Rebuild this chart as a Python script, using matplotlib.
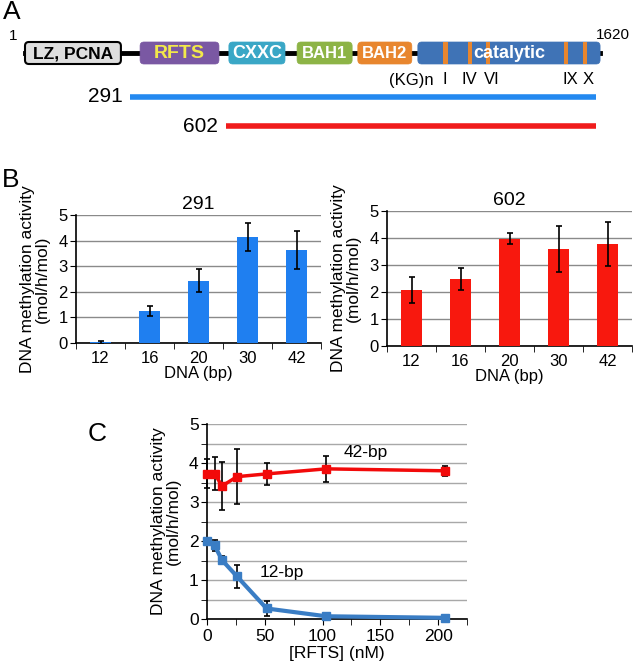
import matplotlib
matplotlib.use("Agg")
import matplotlib.pyplot as plt
from matplotlib.patches import FancyBboxPatch, Rectangle
import numpy as np

plt.rcParams['font.family'] = ['Liberation Sans', 'DejaVu Sans']

# ---- panel A: schematic (positions in residue units as drawn) ----
domain_names = ["LZ, PCNA", "RFTS", "CXXC", "BAH1", "BAH2", "catalytic"]
domain_start = [1, 325, 575, 767, 938, 1107]
domain_end = [271, 547, 733, 922, 1090, 1620]
domain_fill = ["#dedede", "#7a58a3", "#3aa7c6", "#8db446", "#e8862e", "#3f73b6"]
domain_text = ["black", "#f2e84a", "white", "white", "white", "white"]
domain_fs = [12.5, 14, 13, 12, 12, 13]
motif_pos = [1185, 1253, 1305, 1525, 1577]
motif_labels = ["(KG)n", "I", "IV", "VI", "IX", "X"]
motif_label_pos = [1152, 1183, 1253, 1316, 1535, 1586]
construct_names = ["291", "602"]
construct_start = [297, 567]
construct_end = [1609, 1609]
construct_colors = ["#2389f0", "#f01c1c"]

# ---- panel B: activity vs DNA length ----
dna_len = ["12", "16", "20", "30", "42"]
act_291 = [0.02, 1.25, 2.43, 4.13, 3.63]
err_291 = [0.05, 0.18, 0.45, 0.54, 0.75]
act_602 = [2.09, 2.48, 3.98, 3.60, 3.79]
err_602 = [0.48, 0.40, 0.22, 0.85, 0.82]

# ---- panel C: RFTS titration ----
rfts_nm = [0, 6.5, 13, 26, 51.5, 103, 206]
act_42 = [3.73, 3.73, 3.41, 3.65, 3.72, 3.85, 3.80]
err_42 = [0.38, 0.43, 0.62, 0.70, 0.28, 0.33, 0.13]
act_12 = [1.99, 1.89, 1.51, 1.09, 0.27, 0.07, 0.03]
err_12 = [0.03, 0.14, 0.11, 0.30, 0.19, 0.03, 0.02]

W, H = 633, 661
fig = plt.figure(figsize=(W / 100, H / 100), dpi=100)


def px_axes(left, top, right, bottom):
    return fig.add_axes([left / W, 1 - bottom / H, (right - left) / W, (bottom - top) / H])


# ----- A -----
ax_a = px_axes(0, 0, W, 140)
px_per_aa = 0.3552
ax_a.set_xlim(1 - 25 / px_per_aa, 1 + 608 / px_per_aa)
ax_a.set_ylim(140, 0)
ax_a.axis("off")
aspect = px_per_aa

ax_a.plot([domain_start[0], domain_end[-1]], [53, 53], color="black", lw=3.5, zorder=1)
for name, s, e, fc in zip(domain_names, domain_start, domain_end, domain_fill):
    box = FancyBboxPatch((s, 42), e - s, 22,
                         boxstyle="round,pad=0,rounding_size=11",
                         mutation_aspect=aspect,
                         fc=fc, ec="black" if name == "LZ, PCNA" else fc,
                         lw=1.5 if name == "LZ, PCNA" else 0.5, zorder=2)
    ax_a.add_patch(box)
for m in motif_pos:
    ax_a.add_patch(Rectangle((m - 6, 42), 12, 22, fc="#e8862e", ec="none", zorder=3))
for name, s, e, tc, fs in zip(domain_names, domain_start, domain_end, domain_text, domain_fs):
    ax_a.text((s + e) / 2, 54, name, ha="center", va="center", color=tc,
              fontsize=fs, fontweight="bold", zorder=4)
for lab, x in zip(motif_labels, motif_label_pos):
    ax_a.text(x, 80, lab, ha="right" if lab == "(KG)n" else "center", va="center", fontsize=12)
ax_a.text(-33, 36, "1", ha="center", va="center", fontsize=11)
ax_a.text(1609, 35, "1620", ha="left", va="center", fontsize=11)
for name, s, e, c, y in zip(construct_names, construct_start, construct_end, construct_colors, [97, 126]):
    ax_a.plot([s, e], [y, y], color=c, lw=4, solid_capstyle="butt")
    ax_a.text(s - 22, y, name, ha="right", va="center", fontsize=15)

fig.text(3 / W, 1 - 12 / H, "A", fontsize=19, ha="left", va="center")
fig.text(2 / W, 1 - 180 / H, "B", fontsize=19, ha="left", va="center")
fig.text(88 / W, 1 - 434 / H, "C", fontsize=19, ha="left", va="center")


# ----- B -----
def bar_panel(ax, vals, errs, color, title):
    x = np.arange(len(dna_len))
    ax.bar(x, vals, width=0.41, color=color, zorder=3)
    ax.errorbar(x, vals, yerr=errs, fmt="none", ecolor="black", elinewidth=1.2,
                capsize=2.5, capthick=1.2, zorder=4)
    ax.set_xlim(-0.5, len(dna_len) - 0.5)
    ax.set_ylim(0, 5)
    ax.set_yticks(range(6))
    ax.yaxis.grid(True, color="#8a8a8a", lw=1.0, zorder=0)
    ax.set_axisbelow(True)
    ax.set_xticks(x)
    ax.set_xticklabels(dna_len)
    ax.set_xticks(np.arange(-0.5, len(dna_len)), minor=True)
    ax.tick_params(axis="x", which="major", length=0, labelsize=12, pad=6)
    ax.tick_params(axis="x", which="minor", length=4, direction="out")
    ax.tick_params(axis="y", length=4, labelsize=12, pad=2)
    for sp in ["top", "right"]:
        ax.spines[sp].set_visible(False)
    ax.spines["left"].set_linewidth(1.2)
    ax.spines["bottom"].set_linewidth(1.2)
    ax.set_xlabel("DNA (bp)", fontsize=12, labelpad=0)
    ax.set_ylabel("DNA methylation activity\n(mol/h/mol)", fontsize=12.5, labelpad=6,
                  linespacing=1.0)
    ax.set_title(title, fontsize=14, pad=4)


ax_b1 = px_axes(76, 215, 321, 343)
bar_panel(ax_b1, act_291, err_291, "#1f7ff0", "291")
ax_b2 = px_axes(387, 211, 632, 346)
bar_panel(ax_b2, act_602, err_602, "#f8180e", "602")

# ----- C -----
ax_c = px_axes(207, 424, 467, 619)
ax_c.errorbar(rfts_nm, act_42, yerr=err_42, color="#f20a0a", lw=2.5, marker="s", ms=6,
              ecolor="black", elinewidth=1.2, capsize=2, capthick=1.2, clip_on=False, zorder=4)
ax_c.errorbar(rfts_nm, act_12, yerr=err_12, color="#3a7dc4", lw=3, marker="s", ms=6,
              ecolor="black", elinewidth=1.2, capsize=2, capthick=1.2, clip_on=False, zorder=4)
ax_c.set_xlim(0, 225)
ax_c.set_ylim(0, 5)
ax_c.set_xticks([0, 50, 100, 150, 200])
ax_c.set_xticks(np.arange(25, 226, 50), minor=True)
ax_c.set_yticks(range(6))
ax_c.set_yticks(np.arange(0.5, 5, 1), minor=True)
ax_c.yaxis.grid(True, which="both", color="#a8a8a8", lw=1.0, zorder=0)
ax_c.set_axisbelow(True)
ax_c.tick_params(axis="both", which="both", length=4, direction="out", labelsize=12.5)
ax_c.tick_params(axis="y", pad=2)
for sp in ["top", "right"]:
    ax_c.spines[sp].set_visible(False)
ax_c.spines["left"].set_linewidth(1.2)
ax_c.spines["bottom"].set_linewidth(1.2)
ax_c.set_xlabel("[RFTS] (nM)", fontsize=12.5, labelpad=1)
ax_c.set_ylabel("DNA methylation activity\n(mol/h/mol)", fontsize=12.5, labelpad=6,
                linespacing=1.0)
ax_c.text(137, 4.28, "42-bp", fontsize=12.5, ha="center", va="center")
ax_c.text(65, 1.18, "12-bp", fontsize=12.5, ha="center", va="center")

fig.savefig("out.png", dpi=100)
